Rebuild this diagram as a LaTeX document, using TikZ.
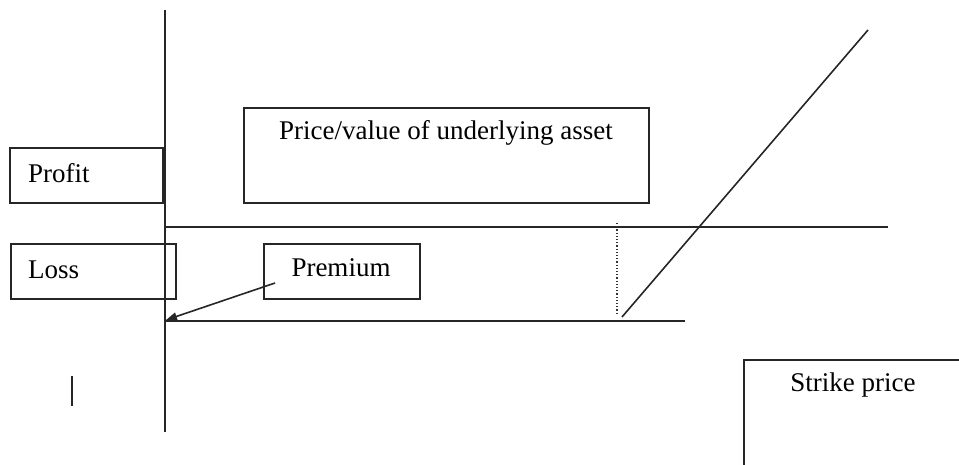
\documentclass[tikz,border=0pt]{standalone}
\usepackage{fontspec}
\setmainfont{Liberation Serif}
\usetikzlibrary{arrows.meta}
\begin{document}
\begin{tikzpicture}[x=1pt,y=-1pt,
  ln/.style={line width=1.6pt,draw=black!85},
  boxst/.style={ln,rectangle,inner sep=0pt,anchor=north west},
  lbl/.style={font=\fontsize{27}{30}\selectfont,inner sep=0pt}]
\useasboundingbox (0,0) rectangle (959,464);
\clip (0,0) rectangle (959,464);
% axes and lines
\coordinate (ytop) at (165,10);
\coordinate (ybot) at (165,432);
\draw[ln] (ytop) -- (ybot);
\coordinate (hu1) at (165,227);
\coordinate (hu2) at (888,227);
\draw[ln] (hu1) -- (hu2);
\coordinate (hl1) at (165,321);
\coordinate (hl2) at (685,321);
\draw[ln] (hl1) -- (hl2);
\coordinate (d1) at (622,317);
\coordinate (d2) at (868,30);
\draw[ln] (d1) -- (d2);
\coordinate (v1) at (617,223);
\coordinate (v2) at (617,315);
\draw[line width=1.2pt,dotted,black!80] (v1) -- (v2);
\coordinate (t1) at (72,376);
\coordinate (t2) at (72,406);
\draw[ln] (t1) -- (t2);
% boxes
\node[boxst,minimum width=153,minimum height=55] (profit) at (9,147) {};
\node[lbl,anchor=west] (profitt) at (28,173) {Profit};
\node[boxst,minimum width=165,minimum height=55] (loss) at (10,243) {};
\node[lbl,anchor=west] (losst) at (28,270) {Loss};
\node[boxst,minimum width=156,minimum height=55] (prem) at (263,243) {};
\node[lbl] (premt) at (341,268) {Premium};
\node[boxst,minimum width=405,minimum height=95] (price) at (243,107) {};
\node[lbl] (pricet) at (446,133) {Price/value of underlying asset};
\node[boxst,minimum width=260,minimum height=140] (strike) at (743,359) {};
\node[lbl] (striket) at (853,385) {Strike price};
% arrow
\coordinate (as) at (275,283);
\coordinate (ae) at (166,320);
\draw[ln,-{Triangle[length=11pt,width=8pt]}] (as) -- (ae);
\end{tikzpicture}
\end{document}
